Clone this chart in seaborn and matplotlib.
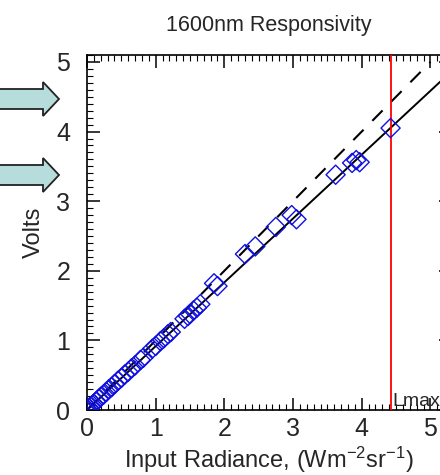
import matplotlib
matplotlib.use("Agg")
import matplotlib.pyplot as plt
import seaborn as sns
import numpy as np
import pandas as pd
from matplotlib.patches import Polygon
from matplotlib.ticker import MultipleLocator

# ---- data ----
radiance = [0.0, 0.01, 0.03, 0.05, 0.08, 0.10, 0.13, 0.17, 0.20, 0.24, 0.28, 0.32,
            0.36, 0.40, 0.45, 0.50, 0.55, 0.60, 0.65, 0.70, 0.78, 0.82, 0.95, 1.00,
            1.07, 1.12, 1.18, 1.22, 1.42, 1.47, 1.50, 1.55, 1.60, 1.65, 1.85, 1.90,
            2.30, 2.45, 2.75, 2.98, 3.05, 3.62, 3.86, 3.92, 3.97, 4.42]
volts = [0.0, 0.01, 0.03, 0.05, 0.07, 0.09, 0.12, 0.16, 0.19, 0.22, 0.26, 0.30,
         0.33, 0.37, 0.42, 0.46, 0.51, 0.55, 0.60, 0.64, 0.72, 0.75, 0.88, 0.92,
         0.99, 1.03, 1.09, 1.12, 1.31, 1.35, 1.38, 1.43, 1.47, 1.52, 1.82, 1.78,
         2.24, 2.35, 2.63, 2.80, 2.74, 3.38, 3.55, 3.59, 3.56, 4.05]
fit_slope = 0.917
ideal_slope = 1.0
ideal_max_volts = 5.0
lmax = 4.42
title = "1600nm Responsivity"
xlabel = r"Input Radiance, (Wm$^{-2}$sr$^{-1}$)"
ylabel = "Volts"
xticks = [0, 1, 2, 3, 4, 5]
yticks = [0, 1, 2, 3, 4, 5]

df = pd.DataFrame({"radiance": radiance, "volts": volts})
ideal_x = np.array([0.0, ideal_max_volts / ideal_slope])
ideal_df = pd.DataFrame({"radiance": ideal_x, "volts": ideal_slope * ideal_x})

sns.set_style("white")
plt.rcParams["font.family"] = ["Liberation Sans", "DejaVu Sans"]
plt.rcParams["mathtext.fontset"] = "custom"
plt.rcParams["mathtext.rm"] = "Liberation Sans"
plt.rcParams["mathtext.it"] = "Liberation Sans"

fig = plt.figure(figsize=(4.4, 4.75), dpi=100)
ax = fig.add_axes([87/440, 65/475, (451-87)/440, (410-55)/475])

sns.lineplot(data=ideal_df, x="radiance", y="volts", color="black", lw=1.5,
             ls=(0, (7, 6)), ax=ax, zorder=1)
ax.axline((0, 0), slope=fit_slope, color="black", lw=1.4, zorder=2)
ax.axvline(lmax, color="red", lw=1.3, zorder=3)
sns.scatterplot(data=df, x="radiance", y="volts", marker="D", s=95,
                facecolor="none", edgecolor="#1010e0", linewidth=1.0, ax=ax, zorder=4)

ax.set_xlim(0, 5.3)
ax.set_ylim(0, 5.1)
ax.set_xticks(xticks)
ax.set_yticks(yticks)
ax.xaxis.set_minor_locator(MultipleLocator(0.1))
ax.yaxis.set_minor_locator(MultipleLocator(0.1))
ax.tick_params(which="both", direction="in", top=True, right=True, bottom=True, left=True,
               color="black")
ax.tick_params(which="major", length=9, width=1.1, labelsize=18)
ax.tick_params(axis="x", which="major", pad=5)
ax.tick_params(axis="y", which="major", pad=12)
ax.tick_params(which="minor", length=4.5, width=0.8)
for s in ax.spines.values():
    s.set_color("black")
    s.set_linewidth(1.2)

ax.set_xlabel(xlabel, fontsize=17, labelpad=3)
ax.set_ylabel(ylabel, fontsize=17, labelpad=8)
ax.set_title(title, fontsize=15.5, pad=17)
ax.text(lmax + 0.03, 0.0, "Lmax", fontsize=14, ha="left", va="bottom", zorder=5)

# block arrows on the left
def block_arrow(tip_y):
    pts = [(-5, tip_y - 10), (43, tip_y - 10), (43, tip_y - 17), (59, tip_y),
           (43, tip_y + 17), (43, tip_y + 10), (-5, tip_y + 10)]
    pts = [(px / 440, 1 - py / 475) for px, py in pts]
    fig.patches.append(Polygon(pts, closed=True, transform=fig.transFigure,
                               facecolor="#b7dcdc", edgecolor="#222222", lw=1.3))

block_arrow(99)
block_arrow(175)

fig.savefig("out.png", dpi=100)
